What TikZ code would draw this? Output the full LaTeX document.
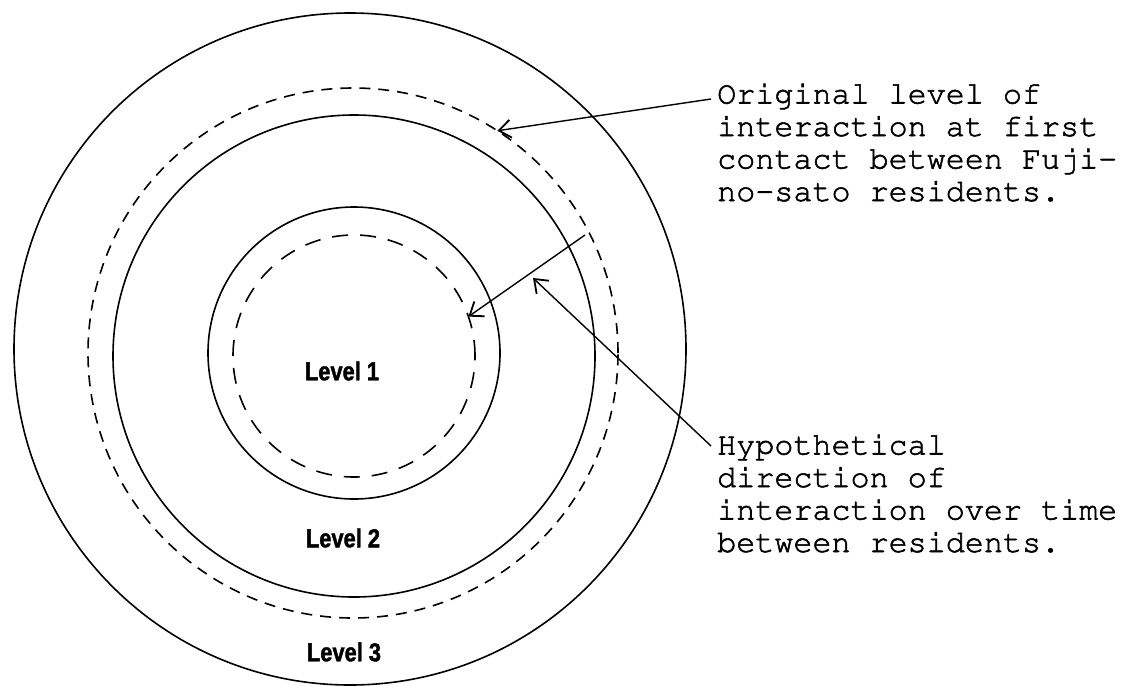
\documentclass[tikz,border=0pt]{standalone}
\usepackage[T1]{fontenc}
\usepackage{fontspec}
\newfontfamily\levelfont[FakeStretch=0.84, BoldFeatures={FakeBold=1.5}]{Liberation Sans}
\usetikzlibrary{arrows.meta}
% typewriter text a little heavier (fill + stroke)
\newcommand\typed{\special{pdf:literal direct 2 Tr 0.55 w}}

\begin{document}
\begin{tikzpicture}[x=1pt, y=-1pt,
ring/.style={circle, draw, line width=1.6pt, inner sep=0pt, outer sep=0pt},
dashring/.style={ring, dash pattern=on 11pt off 8pt},
pointer/.style={line width=1.4pt, -{Straight Barb[length=12pt,width=18pt,line width=1.8pt]}},
level/.style={font=\levelfont\bfseries\fontsize{26}{26}\selectfont, inner sep=0pt},
note/.style={font=\fontencoding{T1}\fontfamily{pcr}\fontsize{31.75}{32.5}\selectfont\typed, align=left, anchor=north west, inner sep=0pt}]

\useasboundingbox (0,0) rectangle (1126,686);

% RINGS
\node[ring, minimum size=672pt] (outer) at (350,349) {};
\node[dashring, minimum size=530pt] (first) at (353,353) {};
\node[ring, minimum size=482pt] (middle) at (354,356) {};
\node[ring, minimum size=292pt] (inner) at (354,353) {};
\node[dashring, minimum size=242pt, dash pattern=on 16pt off 12pt] (later) at (354,356) {};

% levels
\node[level] (lv1) at (342,371) {Level 1};
\node[level] (lv2) at (343,538) {Level 2};
\node[level] (lv3) at (344,652) {Level 3};

% notes
\node[note] (orig) at (717,83) {Original level of\\interaction at first\\contact between Fuji-\\no-sato residents.};
\node[note] (hyp) at (717,434) {Hypothetical\\direction of\\interaction over time\\between residents.};

% arrows
\coordinate (dirtail) at (585,235);
\draw[pointer] ([shift={(-6,16)}]orig.north west) -- (first.57);
\draw[pointer] (dirtail) -- (later.19);
\draw[pointer] ([shift={(-6,12)}]hyp.north west) -- (533,278);

\end{tikzpicture}
\end{document}
